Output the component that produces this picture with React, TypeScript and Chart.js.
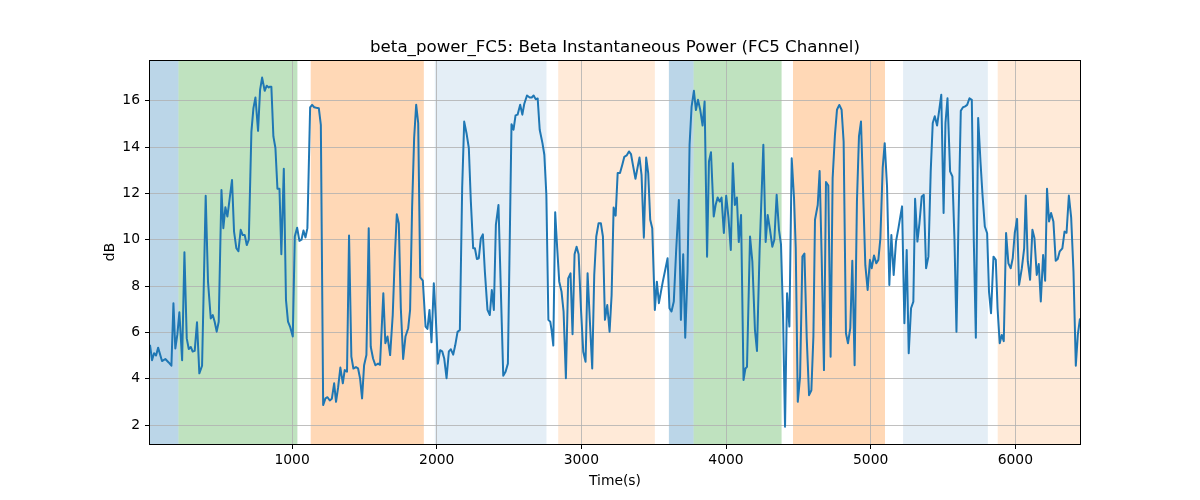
import React, { useEffect, useRef } from "react";
import { Chart, registerables } from "chart.js";

Chart.register(...registerables);

// ---- data ----
const times: number[] = [
  18, 32, 46, 60, 74, 101, 124, 147, 166, 180, 193, 207, 221, 240, 256, 272, 286, 300, 313, 327, 343, 359, 378, 403, 419, 438, 452, 465, 479, 493, 512, 525, 539, 553, 569, 585, 599, 615, 629, 645, 659, 673, 687, 701, 719, 733, 747, 765, 779, 793, 811, 825, 839,
  844, 857, 871, 885, 899, 913, 926, 943, 958, 972, 986, 1005, 1019, 1035, 1051, 1065, 1079, 1093, 1106, 1125, 1139, 1153, 1168, 1185, 1199, 1215, 1231, 1245, 1261, 1275, 1291, 1304, 1318, 1334, 1351, 1364, 1380, 1394, 1410, 1424, 1442, 1456, 1470, 1484, 1498, 1514, 1530, 1544, 1560, 1576, 1595, 1608, 1631, 1645,
  1660, 1678, 1696, 1710, 1724, 1738, 1752, 1768, 1784, 1803, 1816, 1830, 1844, 1858, 1872, 1886, 1904, 1923, 1936, 1950, 1964, 1980, 1994, 2008, 2024, 2038, 2052, 2068, 2084, 2098, 2114, 2128, 2144, 2160, 2176, 2190, 2206, 2222, 2236, 2252, 2264, 2278, 2291, 2305, 2319, 2333, 2351, 2367, 2381, 2395, 2409, 2427, 2443, 2460, 2476, 2492,
  2517, 2531, 2545, 2559, 2577, 2592, 2605, 2624, 2643, 2657, 2670, 2684, 2698, 2712, 2731, 2744, 2758, 2772, 2785, 2794, 2806, 2819, 2833, 2847, 2863, 2877, 2893, 2909, 2925, 2939, 2953, 2967, 2981, 2997, 3013, 3029, 3043, 3059, 3075, 3089, 3103, 3119, 3135, 3149, 3163, 3179, 3195, 3209, 3223, 3237, 3251, 3267, 3283, 3297, 3313, 3329,
  3343, 3356, 3374, 3388, 3402, 3416, 3432, 3448, 3462, 3476, 3490, 3508, 3522, 3536, 3550, 3563, 3582, 3596, 3609, 3623, 3639, 3655, 3674, 3688, 3704, 3718, 3734, 3748, 3762, 3778, 3792, 3806, 3822, 3838, 3852, 3869, 3882, 3896, 3915, 3928, 3942, 3956, 3969, 3985, 4001, 4017, 4033, 4047, 4061, 4075, 4088, 4104, 4121, 4134,
  4145, 4166, 4182, 4200, 4214, 4232, 4258, 4274, 4288, 4304, 4320, 4334, 4350, 4366, 4380, 4394, 4408, 4422, 4438, 4454, 4470, 4482, 4496, 4512, 4528, 4542, 4558, 4574, 4590, 4604, 4615, 4634, 4647, 4661, 4677, 4691, 4707, 4723, 4737, 4753, 4767, 4783, 4799, 4813, 4829, 4843, 4859, 4873, 4889, 4905, 4919, 4933, 4949, 4963, 4979,
  4995, 5007, 5023, 5039, 5053, 5067, 5083, 5097, 5113, 5129, 5143, 5159, 5175, 5192, 5205, 5217, 5233, 5249, 5263, 5279, 5295, 5307, 5323, 5337, 5353, 5367, 5383, 5399, 5415, 5429, 5443, 5459, 5474, 5488, 5504, 5517, 5531, 5549, 5565, 5579, 5593, 5607, 5623, 5637, 5653, 5667, 5683, 5699, 5713, 5727, 5743, 5759, 5773, 5789, 5805,
  5818, 5832, 5849, 5865, 5877, 5892, 5906, 5920, 5936, 5952, 5968, 5982, 5996, 6012, 6026, 6045, 6061, 6072, 6086, 6102, 6118, 6132, 6148, 6162, 6176, 6192, 6206, 6219, 6233, 6247, 6263, 6279, 6293, 6307, 6325, 6340, 6354, 6370, 6386, 6402, 6418, 6432, 6447,
];

const powerDb: number[] = [
  5.46, 4.8, 5.1, 5.0, 5.34, 4.76, 4.85, 4.7, 4.56, 7.26, 5.3, 5.9, 6.87, 4.8, 9.46, 5.74, 5.28, 5.37, 5.17, 5.2, 6.44, 4.23, 4.56, 11.9, 8.19, 6.6, 6.75, 6.46, 6.03, 6.46, 12.15, 10.5, 11.4, 11.0, 11.79, 12.58, 10.35, 9.63, 9.5, 10.43, 10.2, 10.2, 9.77, 10.0, 14.67, 15.68, 16.14, 14.7, 16.47, 17.0, 16.43, 16.65, 16.57,
  16.6, 16.6, 14.46, 13.96, 12.2, 12.2, 9.37, 13.06, 7.4, 6.46, 6.25, 5.82, 10.14, 10.52, 9.95, 10.0, 10.4, 10.1, 10.5, 15.71, 15.82, 15.72, 15.7, 15.68, 14.96, 2.86, 3.15, 3.2, 3.06, 3.13, 3.8, 3.0, 3.6, 4.48, 3.8, 4.37, 4.3, 10.18, 4.95, 4.44, 4.5, 4.45, 4.02, 3.15, 4.58, 5.02, 10.5, 5.38, 4.87, 4.58, 4.65, 4.6, 7.69, 5.53,
  5.82, 5.02, 6.75, 9.2, 11.1, 10.7, 7.04, 4.85, 5.82, 6.18, 6.97, 11.4, 14.39, 15.83, 15.04, 8.37, 8.23, 6.25, 6.15, 6.97, 5.57, 8.12, 6.6, 4.65, 5.23, 5.18, 4.87, 4.02, 5.18, 5.27, 5.04, 5.44, 6.02, 6.1, 12.23, 15.1, 14.6, 13.96, 11.65, 9.63, 9.63, 9.17, 9.2, 10.06, 10.23, 8.62, 6.97, 6.75, 7.83, 6.97, 10.64, 11.5, 7.9, 4.13, 4.3, 4.65,
  14.99, 14.75, 15.37, 15.4, 15.83, 15.4, 15.86, 16.23, 16.14, 16.14, 16.23, 16.07, 16.1, 14.75, 14.17, 13.67, 11.94, 6.54, 6.46, 6.1, 5.43, 11.19, 9.63, 8.19, 7.75, 6.9, 4.02, 8.33, 8.55, 5.92, 9.37, 9.7, 9.37, 7.04, 5.16, 4.73, 8.55, 6.46, 4.44, 8.48, 10.14, 10.71, 10.71, 10.14, 6.54, 7.18, 6.03, 7.6, 11.39, 11.04, 12.88, 12.88, 13.24, 13.58, 13.64, 13.81,
  13.7, 13.24, 12.63, 13.1, 13.55, 12.8, 10.09, 13.55, 12.88, 10.86, 10.5, 6.97, 8.19, 7.26, 7.75, 8.19, 8.77, 9.2, 7.04, 6.9, 7.33, 9.5, 11.72, 6.54, 9.37, 5.77, 8.62, 14.1, 15.75, 16.43, 15.6, 16.04, 15.6, 14.93, 15.97, 9.27, 13.38, 13.78, 11.0, 11.5, 11.82, 11.65, 11.82, 10.29, 11.9, 10.95, 9.56, 13.3, 11.5, 11.82, 9.9, 11.07, 3.94, 4.44,
  4.51, 10.14, 9.06, 6.1, 5.2, 9.5, 14.1, 9.9, 11.07, 10.43, 9.7, 10.0, 11.94, 10.43, 9.8, 6.75, 1.93, 7.69, 6.25, 13.52, 11.8, 9.63, 3.0, 4.09, 9.27, 9.4, 5.74, 3.29, 3.5, 5.82, 10.86, 11.5, 12.97, 9.3, 4.37, 12.49, 12.34, 4.95, 12.66, 14.53, 15.61, 15.82, 15.61, 14.24, 5.96, 5.53, 6.18, 9.09, 4.58, 11.65, 14.46, 15.1, 11.8, 8.9, 7.83,
  9.13, 8.77, 9.32, 8.98, 9.13, 10.06, 13.1, 14.17, 12.3, 8.05, 10.2, 8.48, 9.92, 10.5, 11.0, 11.44, 6.39, 9.56, 5.1, 7.04, 7.33, 11.77, 9.92, 10.71, 11.87, 11.94, 8.77, 9.27, 12.95, 15.04, 15.33, 14.93, 15.61, 16.26, 11.15, 15.04, 16.11, 12.95, 12.73, 10.06, 6.03, 10.79, 15.57, 15.71, 15.76, 15.82, 16.11, 16.04, 9.92, 5.77, 15.26, 13.38, 11.94, 10.57, 10.28,
  7.75, 6.83, 9.27, 9.13, 7.04, 5.53, 5.89, 5.62, 10.29, 8.98, 8.77, 9.2, 10.29, 10.9, 8.05, 8.77, 9.63, 11.91, 9.06, 8.27, 10.43, 10.07, 8.48, 8.95, 7.33, 9.34, 8.23, 12.2, 10.79, 11.15, 10.79, 9.09, 9.17, 9.5, 9.63, 10.35, 10.3, 11.91, 10.95, 8.62, 4.56, 5.9, 6.6,
];

const spanStarts: number[] = [18, 215, 1129, 1987, 2840, 3605, 3776, 4463, 5224, 5878];
const spanEnds: number[] = [215, 1037, 1911, 2759, 3508, 3776, 4384, 5099, 5810, 6447];
const spanKinds: string[] = ["blue", "green", "orange", "lightBlue", "lightOrange", "blue", "green", "orange", "lightBlue", "lightOrange"];

const xTicks: number[] = [1000, 2000, 3000, 4000, 5000, 6000];
const yTicks: number[] = [2, 4, 6, 8, 10, 12, 14, 16];

const titleText = "beta_power_FC5: Beta Instantaneous Power (FC5 Channel)";
const xLabel = "Time(s)";
const yLabel = "dB";

// ---- styles ----
const spanColors: Record<string, string> = {
  blue: "rgba(31,119,180,0.3)",
  green: "rgba(44,160,44,0.3)",
  orange: "rgba(255,127,14,0.3)",
  lightBlue: "rgba(31,119,180,0.12)",
  lightOrange: "rgba(255,127,14,0.16)",
};
const FONT = "'DejaVu Sans', sans-serif";
const SMALL = 13.89;
const LARGE = 16.67;

export default function App() {
  const ref = useRef<HTMLCanvasElement | null>(null);

  useEffect(() => {
    if (!ref.current) return;
    const spansPlugin = {
      id: "spans",
      beforeDraw(chart: any) {
        const { ctx, chartArea } = chart;
        const xs = chart.scales.x;
        ctx.save();
        ctx.beginPath();
        ctx.rect(chartArea.left, chartArea.top, chartArea.right - chartArea.left, chartArea.bottom - chartArea.top);
        ctx.clip();
        for (let i = 0; i < spanStarts.length; i++) {
          const x0 = xs.getPixelForValue(spanStarts[i]);
          const x1 = xs.getPixelForValue(spanEnds[i]);
          ctx.fillStyle = spanColors[spanKinds[i]];
          ctx.fillRect(x0, chartArea.top, x1 - x0, chartArea.bottom - chartArea.top);
        }
        ctx.restore();
      },
      afterDraw(chart: any) {
        const { ctx, chartArea } = chart;
        ctx.save();
        ctx.strokeStyle = "#000";
        ctx.lineWidth = 1;
        ctx.strokeRect(
          Math.round(chartArea.left) - 0.5,
          Math.round(chartArea.top) + 0.5,
          Math.round(chartArea.right - chartArea.left) + 1,
          Math.round(chartArea.bottom - chartArea.top)
        );
        ctx.fillStyle = "#000";
        ctx.font = `${LARGE}px ${FONT}`;
        ctx.textAlign = "center";
        ctx.textBaseline = "alphabetic";
        ctx.fillText(titleText, (chartArea.left + chartArea.right) / 2, chartArea.top - 8);
        ctx.restore();
      },
    };

    const chart = new Chart(ref.current, {
      type: "line",
      data: {
        datasets: [
          {
            data: times.map((t, i) => ({ x: t, y: powerDb[i] })),
            borderColor: "#1f77b4",
            borderWidth: 2,
            pointRadius: 0,
            tension: 0,
            fill: false,
            borderJoinStyle: "round",
          },
        ],
      },
      options: {
        animation: false,
        responsive: false,
        devicePixelRatio: 1,
        layout: { padding: { left: 0, right: 120, top: 60, bottom: 0 } },
        plugins: { legend: { display: false }, tooltip: { enabled: false }, title: { display: false } },
        scales: {
          x: {
            type: "linear",
            min: 18,
            max: 6447,
            afterBuildTicks: (s: any) => { s.ticks = xTicks.map((v) => ({ value: v })); },
            afterFit: (s: any) => { s.height = 56; },
            ticks: { color: "#000", font: { family: FONT, size: SMALL }, padding: 3, maxRotation: 0, callback: (v: any) => String(v) },
            grid: { color: "#b0b0b0", lineWidth: 0.8, tickColor: "#000", tickLength: 5, tickWidth: 1 },
            border: { display: false },
            title: { display: true, text: xLabel, color: "#000", font: { family: FONT, size: SMALL }, padding: { top: 0, bottom: 10 } },
          },
          y: {
            type: "linear",
            min: 1.18,
            max: 17.76,
            afterBuildTicks: (s: any) => { s.ticks = yTicks.map((v) => ({ value: v })); },
            afterFit: (s: any) => { s.width = 150; },
            ticks: { color: "#000", font: { family: FONT, size: SMALL }, padding: 5, callback: (v: any) => String(v) },
            grid: { color: "#b0b0b0", lineWidth: 0.8, tickColor: "#000", tickLength: 5, tickWidth: 1 },
            border: { display: false },
            title: { display: true, text: yLabel, color: "#000", font: { family: FONT, size: SMALL }, padding: { top: 102, bottom: 0 } },
          },
        },
      },
      plugins: [spansPlugin],
    } as any);
    return () => chart.destroy();
  }, []);

  return (
    <div style={{ position: "absolute", left: 0, top: 0, width: 1200, height: 500, background: "#fff" }}>
      <canvas ref={ref} width={1200} height={500} style={{ display: "block" }} />
    </div>
  );
}
